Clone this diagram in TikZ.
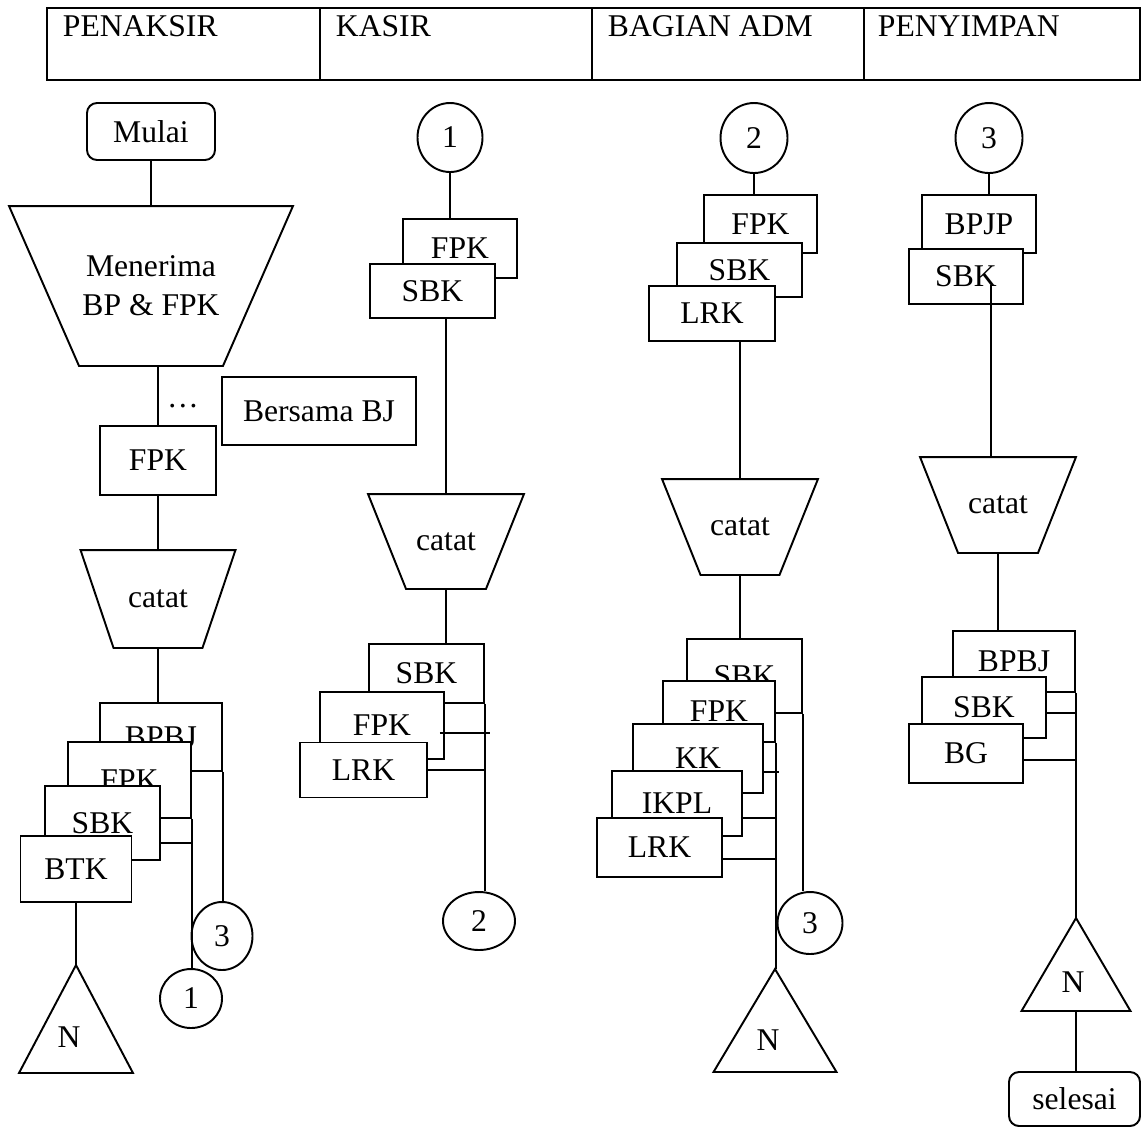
\documentclass[tikz,border=0pt]{standalone}
\usepackage{fontspec}
\setmainfont{Liberation Serif}
\usetikzlibrary{shapes.geometric}
\tikzset{
  doc/.style 2 args={draw, fill=white, minimum width=#1*0.2mm, minimum height=#2*0.2mm, inner sep=0pt},
  conn/.style 2 args={draw, ellipse, fill=white, minimum width=#1*0.2mm, minimum height=#2*0.2mm, inner sep=0pt},
  term/.style 2 args={draw, rounded corners=2mm, minimum width=#1*0.2mm, minimum height=#2*0.2mm, inner sep=0pt},
  procbox/.style 2 args={minimum width=#1*0.2mm, minimum height=#2*0.2mm, inner sep=0pt, align=center},
}
\begin{document}
\begin{tikzpicture}[x=0.2mm, y=-0.2mm, line width=1.1pt, font=\fontsize{18}{22}\selectfont]
\useasboundingbox (0,0) rectangle (1142,1128);

% lanes
\draw (47,8) rectangle (1140,80);
\foreach \x in {320,592,864}
  \draw (\x,8) -- (\x,80);
\foreach \x/\lane [count=\i] in {62/PENAKSIR,335/KASIR,607/BAGIAN ADM,877/PENYIMPAN}
  \node[anchor=west, inner sep=0pt] (lane\i) at (\x,26) {\lane};

% PENAKSIR
\node[term={128}{57}] (pMulai) at (151,131.5) {Mulai};
\node[procbox={282}{158}] (pTerima) at (151,286) {Menerima\\BP \& FPK};
\node (pDots) at (183,406) {\dots};
\node[doc={194}{68}] (pBersama) at (319,411) {Bersama BJ};
\node[doc={116}{69}] (pFPK) at (158,460.5) {FPK};
\node[procbox={153}{96}] (pCatat) at (158,599) {catat};
\node[doc={122}{68}] (pBPBJ) at (161,737) {BPBJ};
\node[doc={123}{76}] (pFPK2) at (129.5,780) {FPK};
\node[doc={115}{74}] (pSBK) at (102.5,823) {SBK};
\node[doc={111}{66}] (pBTK) at (76,869) {BTK};
\node[conn={61}{68}] (pOff3) at (222,936) {3};
\node[conn={62}{59}] (pOff1) at (191,998.5) {1};
\node[procbox={112}{106}] (pArsip) at (76,1019) {};
\node (pN) at (69,1037) {N};

% KASIR
\node[conn={65}{69}] (kOff1) at (450,137.5) {1};
\node[doc={114}{59}] (kFPK) at (460,248.5) {FPK};
\node[doc={125}{54}] (kSBK) at (432.5,291) {SBK};
\node[procbox={154}{93}] (kCatat) at (446,541.5) {catat};
\node[doc={115}{59}] (kSBK2) at (426.5,673.5) {SBK};
\node[doc={124}{67}] (kFPK2) at (382,725.5) {FPK};
\node[doc={127}{55}] (kLRK) at (363.5,770) {LRK};
\node[conn={72}{58}] (kOff2) at (479,921) {2};

% BAGIAN ADM
\node[conn={67}{70}] (aOff2) at (754,138) {2};
\node[doc={113}{58}] (aFPK) at (760.5,224) {FPK};
\node[doc={125}{54}] (aSBK) at (739.5,270) {SBK};
\node[doc={126}{55}] (aLRK) at (712,313.5) {LRK};
\node[procbox={154}{94}] (aCatat) at (740,527) {catat};
\node[doc={115}{74}] (aSBK2) at (744.5,676) {SBK};
\node[doc={112}{61}] (aFPK2) at (719,711.5) {FPK};
\node[doc={130}{69}] (aKK) at (698,758.5) {KK};
\node[doc={130}{65}] (aIKPL) at (677,803.5) {IKPL};
\node[doc={125}{59}] (aLRK2) at (659.5,847.5) {LRK};
\node[conn={65}{62}] (aOff3) at (810,923) {3};
\node[procbox={121}{101}] (aArsip) at (775,1020.5) {};
\node (aN) at (768,1040) {N};

% PENYIMPAN
\node[conn={67}{70}] (sOff3) at (989,138) {3};
\node[doc={114}{58}] (sBPJP) at (979,224) {BPJP};
\node[doc={114}{55}] (sSBK) at (966,276.5) {SBK};
\node[procbox={154}{94}] (sCatat) at (998,505) {catat};
\node[doc={122}{61}] (sBPBJ) at (1014,661.5) {BPBJ};
\node[doc={124}{61}] (sSBK2) at (984,707.5) {SBK};
\node[doc={114}{59}] (sBG) at (966,753.5) {BG};
\node[procbox={107}{91}] (sArsip) at (1076,964.5) {};
\node (sN) at (1073,982) {N};
\node[term={131}{54}] (sSelesai) at (1074.5,1099) {selesai};

% trapeziums and off-page triangles
\foreach \n/\d in {pTerima/14mm, pCatat/6.6mm, kCatat/7.6mm, aCatat/7.7mm, sCatat/7.6mm}
  \draw (\n.north west) -- (\n.north east) -- ([xshift=-\d]\n.south east) -- ([xshift=\d]\n.south west) -- cycle;
\foreach \n in {pArsip, aArsip, sArsip}
  \draw (\n.north) -- (\n.south east) -- (\n.south west) -- cycle;

% flow lines
\draw (pMulai) -- (pTerima);
\draw (pTerima.south -| pFPK.north) -- (pFPK.north);
\draw (pFPK.south) -- (pFPK.south |- pCatat.north);
\draw (pCatat.south) -- (pCatat.south |- pBPBJ.north);
\draw (pBPBJ.south east) -- (pBPBJ.south east |- pOff3.north);
\draw (pFPK2.south east) -- (pFPK2.south east |- pOff1.north);
\draw ([yshift=-4mm]pSBK.east) -- ([yshift=-4mm]pSBK.east -| pFPK2.east);
\draw (pBTK.south) -- (pBTK.south |- pArsip.north);

\draw (kOff1.south) -- (kOff1.south |- kFPK.north);
\draw (kSBK.south -| kCatat.north) -- (kCatat.north);
\draw (kCatat.south) -- (kCatat.south |- kSBK2.north);
\draw (kSBK2.south east) -- (kSBK2.south east |- kOff2.north);
\draw ([xshift=-1mm,yshift=-1.5mm]kFPK2.east) -- ++(50,0);
\draw (kLRK.east) -- (kLRK.east -| kSBK2.east);

\draw (aOff2.south) -- (aOff2.south |- aFPK.north);
\draw (aLRK.south -| aCatat.north) -- (aCatat.north);
\draw (aCatat.south) -- (aCatat.south |- aSBK2.north);
\draw (aSBK2.south east) -- (aSBK2.south east |- aOff3.north);
\draw (aFPK2.south east) -- (aFPK2.south east |- aArsip.north);
\draw ([yshift=-2.7mm]aKK.east) -- ++(15,0);
\draw ([xshift=-0.4mm,yshift=-2.9mm]aIKPL.east) -- ([yshift=-2.9mm]aIKPL.east -| aFPK2.east);
\draw ([yshift=-2.3mm]aLRK2.east) -- ([yshift=-2.3mm]aLRK2.east -| aFPK2.east);

\draw (sOff3.south) -- (sOff3.south |- sBPJP.north);
\draw ([xshift=5mm,yshift=-1.7mm]sSBK.center) -- ([xshift=5mm]sSBK.center |- sCatat.north);
\draw (sCatat.south) -- (sCatat.south |- sBPBJ.north);
\draw (sBPBJ.south east) -- (sBPBJ.south east |- sArsip.north);
\draw ([yshift=-1.1mm]sSBK2.east) -- ([yshift=-1.1mm]sSBK2.east -| sBPBJ.east);
\draw ([yshift=-1.3mm]sBG.east) -- ([yshift=-1.3mm]sBG.east -| sBPBJ.east);
\draw (sArsip.south) -- (sArsip.south |- sSelesai.north);
\end{tikzpicture}
\end{document}
